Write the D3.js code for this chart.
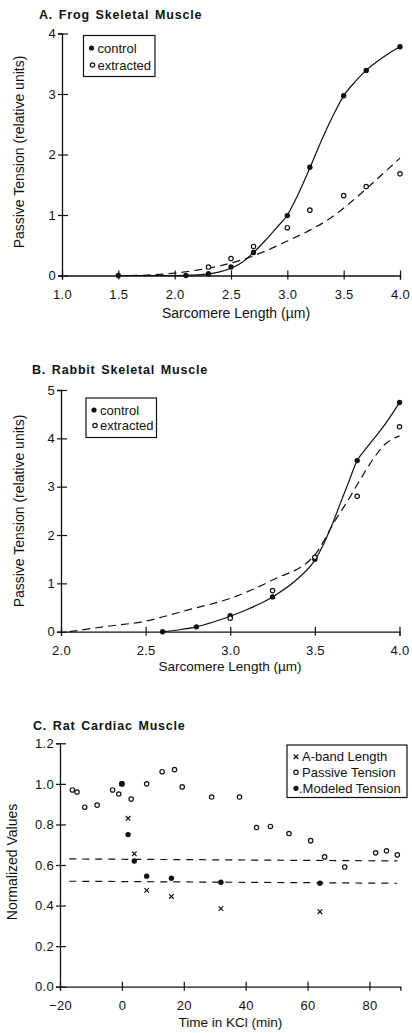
<!DOCTYPE html>
<html><head><meta charset="utf-8">
<script src="https://cdn.jsdelivr.net/npm/d3@7/dist/d3.min.js"></script>
<style>
html,body{margin:0;padding:0;background:#fff;}
svg{display:block;font-family:"Liberation Sans",Arial,Helvetica,sans-serif;}
</style></head>
<body>
<svg id="chart" width="412" height="1033"></svg>
<script>
// ---------- Panel A: Frog skeletal muscle ----------
const frogControlX = [1.5, 2.1, 2.3, 2.5, 2.7, 3.0, 3.2, 3.5, 3.7, 4.0];
const frogControlY = [0, 0, 0.03, 0.14, 0.38, 0.99, 1.79, 2.97, 3.39, 3.78];
const frogExtractedX = [2.3, 2.5, 2.7, 3.0, 3.2, 3.5, 3.7, 4.0];
const frogExtractedY = [0.14, 0.28, 0.48, 0.79, 1.08, 1.32, 1.47, 1.68];
const frogSolidFitX = [1.5, 2.0, 2.2, 2.4, 2.5, 2.6, 2.7, 2.8, 2.9, 3.0, 3.1, 3.2, 3.3, 3.4, 3.5, 3.6, 3.7, 3.8, 3.9, 4.0];
const frogSolidFitY = [0, 0, 0.01, 0.06, 0.12, 0.22, 0.38, 0.57, 0.78, 1.0, 1.36, 1.78, 2.22, 2.62, 2.97, 3.2, 3.39, 3.54, 3.67, 3.78];
const frogDashFitX = [1.6, 1.8, 2.0, 2.2, 2.4, 2.6, 2.8, 3.0, 3.2, 3.4, 3.6, 3.8, 4.0];
const frogDashFitY = [0, 0.01, 0.04, 0.09, 0.16, 0.26, 0.40, 0.57, 0.75, 0.97, 1.27, 1.60, 1.94];
const frogXTicks = [1.0, 1.5, 2.0, 2.5, 3.0, 3.5, 4.0];
const frogYTicks = [0, 1, 2, 3, 4];

// ---------- Panel B: Rabbit skeletal muscle ----------
const rabbitControlX = [2.6, 2.8, 3.0, 3.25, 3.5, 3.75, 4.0];
const rabbitControlY = [0, 0.1, 0.33, 0.72, 1.5, 3.54, 4.74];
const rabbitExtractedX = [3.0, 3.25, 3.5, 3.75, 4.0];
const rabbitExtractedY = [0.28, 0.85, 1.54, 2.8, 4.24];
const rabbitSolidFitX = [2.6, 2.7, 2.8, 2.9, 3.0, 3.1, 3.25, 3.4, 3.5, 3.55, 3.6, 3.65, 3.7, 3.75, 3.8, 3.85, 3.9, 4.0];
const rabbitSolidFitY = [0, 0.04, 0.1, 0.2, 0.32, 0.46, 0.72, 1.1, 1.48, 1.8, 2.2, 2.65, 3.1, 3.54, 3.78, 4.0, 4.22, 4.74];
const rabbitDashFitX = [2.05, 2.25, 2.5, 2.75, 3.0, 3.25, 3.5, 3.62, 3.71, 3.75, 3.85, 3.9, 4.0];
const rabbitDashFitY = [0, 0.1, 0.22, 0.45, 0.69, 1.07, 1.59, 2.3, 2.8, 3.04, 3.6, 3.83, 4.05];
const rabbitXTicks = [2.0, 2.5, 3.0, 3.5, 4.0];
const rabbitYTicks = [0, 1, 2, 3, 4, 5];

// ---------- Panel C: Rat cardiac muscle ----------
const passiveTime = [-16, -14.5, -12, -8, -3, -1, 0, 3, 8, 13, 17, 19.5, 29, 38, 43.5, 48, 54, 61, 65.5, 72, 82, 85.5, 89];
const passiveValue = [0.97, 0.96, 0.885, 0.895, 0.97, 0.95, 1.0, 0.925, 1.0, 1.06, 1.07, 0.985, 0.935, 0.935, 0.785, 0.79, 0.755, 0.72, 0.64, 0.59, 0.66, 0.67, 0.65];
const abandTime = [0, 2, 4, 8, 16, 32, 64];
const abandValue = [1.0, 0.83, 0.655, 0.475, 0.445, 0.385, 0.37];
const modeledTime = [0, 2, 4, 8, 16, 32, 64];
const modeledValue = [1.0, 0.75, 0.62, 0.545, 0.535, 0.515, 0.51];
const upperLineTime = [-17, 89];
const upperLineValue = [0.63, 0.62];
const lowerLineTime = [-17, 89];
const lowerLineValue = [0.52, 0.51];
const cardiacXTicks = [-20, 0, 20, 40, 60, 80];
const cardiacYTicks = [0, 0.2, 0.4, 0.6, 0.8, 1.0, 1.2];

const skeletalLegend = ["control", "extracted"];
const cardiacLegend = ["A-band Length", "Passive Tension", ".Modeled Tension"];

const zip = (xs, ys) => xs.map((v, i) => [v, ys[i]]);
const svg = d3.select("#chart");
const INK = "#111";

function axes(g, x, y, xTicks, yTicks, xFmt, yFmt) {
  const xa = g.append("g").attr("transform", `translate(0,${y(0)})`)
    .call(d3.axisBottom(x).tickValues(xTicks).tickFormat(xFmt).tickSizeOuter(0).tickSize(4));
  xa.selectAll(".tick line").attr("y1", -5).attr("y2", 4);
  xa.selectAll(".tick text").attr("y", 14).attr("font-size", 13).attr("letter-spacing", 0.3);
  const ya = g.append("g").attr("transform", `translate(${x.range()[0]},0)`)
    .call(d3.axisLeft(y).tickValues(yTicks).tickFormat(yFmt).tickSizeOuter(0).tickSize(4));
  ya.selectAll(".tick line").attr("x1", -4).attr("x2", 6);
  ya.selectAll(".tick text").attr("x", -6).attr("font-size", 13).attr("letter-spacing", 0.3);
  g.selectAll(".domain").attr("stroke", INK).attr("stroke-width", 1.3);
  g.selectAll(".tick line").attr("stroke", INK).attr("stroke-width", 1.2);
  g.selectAll(".tick text").attr("fill", INK).attr("font-family", null);
  g.selectAll("g").attr("font-family", null);
}

function title(txt, x, y) {
  svg.append("text").attr("x", x).attr("y", y).text(txt)
    .attr("font-size", 12.5).attr("font-weight", "bold").attr("letter-spacing", 0.8)
    .attr("word-spacing", 1.5).attr("fill", INK);
}

function xTitle(txt, x, y, size) {
  svg.append("text").attr("x", x).attr("y", y).attr("text-anchor", "middle")
    .attr("font-size", size).attr("fill", INK).text(txt);
}
function yTitle(txt, x, y, size) {
  svg.append("text").attr("transform", `translate(${x},${y}) rotate(-90)`)
    .attr("text-anchor", "middle").attr("dy", "0.35em")
    .attr("font-size", size).attr("fill", INK).text(txt);
}

function filled(g, pts, x, y) {
  g.selectAll(null).data(pts).join("circle")
    .attr("cx", d => x(d[0])).attr("cy", d => y(d[1])).attr("r", 2.7).attr("fill", INK);
}
function open(g, pts, x, y) {
  g.selectAll(null).data(pts).join("circle")
    .attr("cx", d => x(d[0])).attr("cy", d => y(d[1])).attr("r", 2.2)
    .attr("fill", "#fff").attr("stroke", INK).attr("stroke-width", 1.2);
}
function cross(g, pts, x, y) {
  const s = 2.3;
  g.selectAll(null).data(pts).join("path")
    .attr("d", d => { const cx = x(d[0]), cy = y(d[1]);
      return `M${cx - s},${cy - s}L${cx + s},${cy + s}M${cx - s},${cy + s}L${cx + s},${cy - s}`; })
    .attr("stroke", INK).attr("stroke-width", 1.2).attr("fill", "none");
}
function curve(g, pts, x, y, dash) {
  g.append("path").datum(pts)
    .attr("d", d3.line().x(d => x(d[0])).y(d => y(d[1])).curve(d3.curveMonotoneX))
    .attr("fill", "none").attr("stroke", INK).attr("stroke-width", 1.2)
    .attr("stroke-dasharray", dash || null);
}

function skeletalLegendBox(x0, y0, w, h, rowYs) {
  svg.append("rect").attr("x", x0).attr("y", y0).attr("width", w).attr("height", h)
    .attr("fill", "#fff").attr("stroke", INK).attr("stroke-width", 1.2);
  skeletalLegend.forEach((lab, i) => {
    const cy = rowYs[i];
    if (i === 0) svg.append("circle").attr("cx", x0 + 8).attr("cy", cy).attr("r", 2.6).attr("fill", INK);
    else svg.append("circle").attr("cx", x0 + 9).attr("cy", cy).attr("r", 2.2).attr("fill", "#fff").attr("stroke", INK).attr("stroke-width", 1.2);
    svg.append("text").attr("x", x0 + 14).attr("y", cy).attr("dy", "0.35em")
      .attr("font-size", 13).attr("fill", INK).text(lab);
  });
}

// ---- Panel A ----
{
  const x = d3.scaleLinear().domain([1, 4]).range([62, 400]);
  const y = d3.scaleLinear().domain([0, 4]).range([275.5, 33.5]);
  const g = svg.append("g");
  title("A. Frog Skeletal Muscle", 39, 18.5);
  axes(g, x, y, frogXTicks, frogYTicks, d3.format(".1f"), d3.format("d"));
  curve(g, zip(frogSolidFitX, frogSolidFitY), x, y);
  curve(g, zip(frogDashFitX, frogDashFitY), x, y, "8,5");
  filled(g, zip(frogControlX, frogControlY), x, y);
  open(g, zip(frogExtractedX, frogExtractedY), x, y);
  xTitle("Sarcomere Length (µm)", 236, 318, 14);
  yTitle("Passive Tension (relative units)", 19, 152, 14);
  skeletalLegendBox(83.5, 35.5, 71.5, 41, [48, 65]);
}

// ---- Panel B ----
{
  const x = d3.scaleLinear().domain([2, 4]).range([61, 399.5]);
  const y = d3.scaleLinear().domain([0, 5]).range([631.7, 390]);
  const g = svg.append("g");
  title("B. Rabbit Skeletal Muscle", 32, 373.5);
  axes(g, x, y, rabbitXTicks, rabbitYTicks, d3.format(".1f"), d3.format("d"));
  curve(g, zip(rabbitSolidFitX, rabbitSolidFitY), x, y);
  curve(g, zip(rabbitDashFitX, rabbitDashFitY), x, y, "8,5");
  filled(g, zip(rabbitControlX, rabbitControlY), x, y);
  open(g, zip(rabbitExtractedX, rabbitExtractedY), x, y);
  xTitle("Sarcomere Length (µm)", 230, 671, 13.5);
  yTitle("Passive Tension (relative units)", 19, 511, 14);
  skeletalLegendBox(86, 398, 70.5, 39.5, [410, 425.5]);
}

// ---- Panel C ----
{
  const x = d3.scaleLinear().domain([-20, 90]).range([60, 400.4]);
  const y = d3.scaleLinear().domain([0, 1.2]).range([986.7, 743.3]);
  const g = svg.append("g");
  title("C. Rat Cardiac Muscle", 33, 729.5);
  axes(g, x, y, cardiacXTicks, cardiacYTicks, d3.format("d"), d3.format(".1f"));
  curve(g, zip(upperLineTime, upperLineValue), x, y, "7,6");
  curve(g, zip(lowerLineTime, lowerLineValue), x, y, "7,6");
  open(g, zip(passiveTime, passiveValue), x, y);
  cross(g, zip(abandTime, abandValue), x, y);
  filled(g, zip(modeledTime, modeledValue), x, y);
  xTitle("Time in KCl (min)", 230.5, 1027, 13.5);
  yTitle("Normalized Values", 12, 862, 14);
  // legend
  const lx = 287, ly = 745;
  svg.append("rect").attr("x", lx).attr("y", ly).attr("width", 120).attr("height", 52.5)
    .attr("fill", "#fff").attr("stroke", INK).attr("stroke-width", 1.2);
  const rows = [756.7, 772.3, 788.3];
  cardiacLegend.forEach((lab, i) => {
    const cx = lx + 9, cy = rows[i];
    if (i === 0) {
      const s = 2.3;
      svg.append("path").attr("d", `M${cx - s},${cy - s}L${cx + s},${cy + s}M${cx - s},${cy + s}L${cx + s},${cy - s}`)
        .attr("stroke", INK).attr("stroke-width", 1.3);
    } else if (i === 1) {
      svg.append("circle").attr("cx", cx).attr("cy", cy).attr("r", 2.2).attr("fill", "#fff").attr("stroke", INK).attr("stroke-width", 1.2);
    } else {
      svg.append("circle").attr("cx", cx).attr("cy", cy).attr("r", 2.6).attr("fill", INK);
    }
    svg.append("text").attr("x", lx + (i === 2 ? 12 : 15)).attr("y", cy).attr("dy", "0.35em")
      .attr("font-size", 13).attr("fill", INK).text(lab);
  });
}
</script>
</body></html>
